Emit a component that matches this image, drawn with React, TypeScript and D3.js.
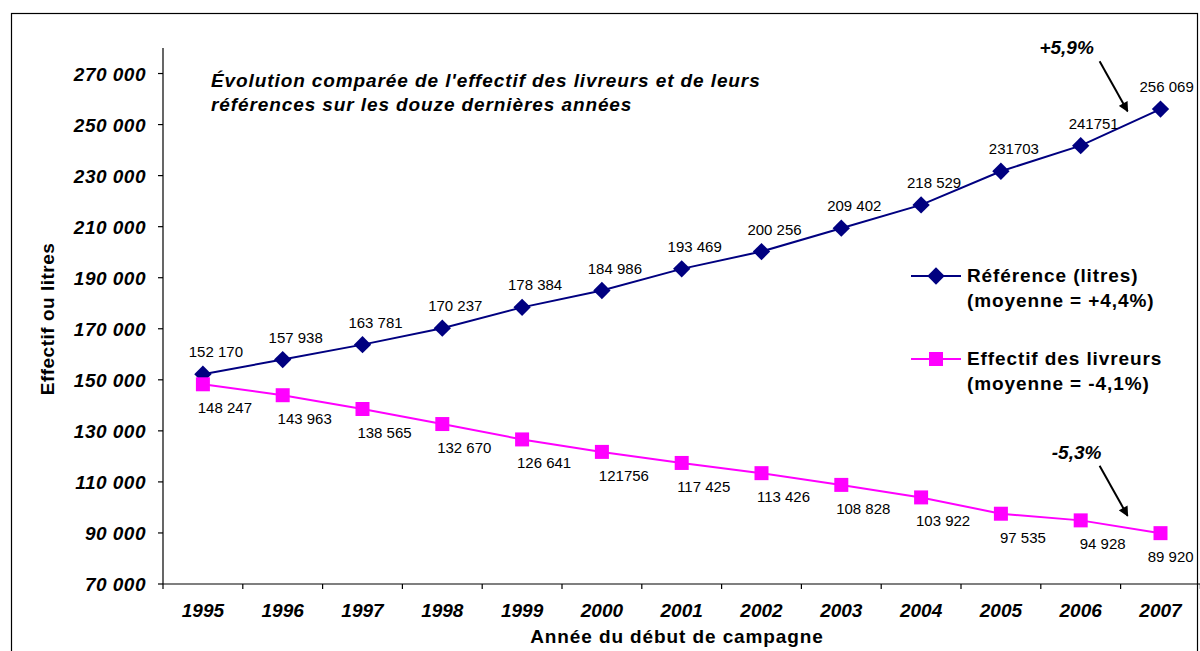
import React from "react";
import * as d3 from "d3";

const years = ["1995","1996","1997","1998","1999","2000","2001","2002","2003","2004","2005","2006","2007"];
const reference = [152170,157938,163781,170237,178384,184986,193469,200256,209402,218529,231703,241751,256069];
const referenceLabels = ["152 170","157 938","163 781","170 237","178 384","184 986","193 469","200 256","209 402","218 529","231703","241751","256 069"];
const effectif = [148247,143963,138565,132670,126641,121756,117425,113426,108828,103922,97535,94928,89920];
const effectifLabels = ["148 247","143 963","138 565","132 670","126 641","121756","117 425","113 426","108 828","103 922","97 535","94 928","89 920"];
const yTicks = [70000,90000,110000,130000,150000,170000,190000,210000,230000,250000,270000];
const titleLines = ["Évolution comparée de l'effectif des livreurs et de leurs","références sur les douze dernières années"];
const legendRef = ["Référence (litres)","(moyenne = +4,4%)"];
const legendEff = ["Effectif des livreurs","(moyenne = -4,1%)"];

const W = 1200, H = 651;
const left = 163, bottom = 584, top = 48;
const step = 79.8;
const NAVY = "#000080", MAG = "#FF00FF";
const FONT = "'Liberation Sans', Arial, sans-serif";
const LABEL_SIZE = 15;

export default function App() {
  const x = d3.scaleBand<string>().domain(years).range([left, left + step * years.length]).padding(0);
  const y = d3.scaleLinear().domain([70000, 280000]).range([bottom, top]);
  const cx = (i: number) => (x(years[i]) as number) + x.bandwidth() / 2;
  const line = d3.line<number>().x((_, i) => cx(i)).y(d => y(d));
  const fmt = (v: number) => d3.format(",")(v).replace(/,/g, " ");
  const diamond = d3.symbol(d3.symbolSquare, 150)();
  const square = d3.symbol(d3.symbolSquare, 196)();
  const n = years.length;
  const labelX = (i: number, dx: number, s: string) => {
    const half = (s.length * LABEL_SIZE * 0.54) / 2;
    return Math.min(cx(i) + dx, 1195 - half);
  };

  const pct = (arr: number[]) => {
    const p = (arr[n - 1] / arr[n - 2] - 1) * 100;
    return (p >= 0 ? "+" : "-") + Math.abs(p).toFixed(1).replace(".", ",") + "%";
  };
  const annots = [
    { arr: reference, text: pct(reference), dy: -16, lx: -33 },
    { arr: effectif, text: pct(effectif), dy: -11, lx: -23 },
  ];

  return (
    <svg width={W} height={H} style={{ position: "absolute", left: 0, top: 0, fontFamily: FONT }}>
      <defs>
        <marker id="ah" viewBox="0 0 10 10" refX="9" refY="5" markerWidth="5.5" markerHeight="5" orient="auto">
          <path d="M0,0 L10,5 L0,10 z" fill="#000" />
        </marker>
      </defs>
      <rect x={0} y={0} width={W} height={H} fill="#fff" />
      <rect x={11.5} y={13.5} width={1186} height={700} fill="none" stroke="#000" strokeWidth={1.2} />

      {/* title */}
      {titleLines.map((t, i) => (
        <text key={i} x={211} y={87 + i * 24} fontSize={19} fontWeight="bold" fontStyle="italic" letterSpacing={0.9}>{t}</text>
      ))}

      {/* y axis */}
      <line x1={left} x2={left} y1={top} y2={bottom} stroke="#000" strokeWidth={1.2} />
      {yTicks.map(t => (
        <g key={t}>
          <line x1={left - 5} x2={left} y1={y(t)} y2={y(t)} stroke="#000" strokeWidth={1.2} />
          <text x={146} y={y(t) + 7} textAnchor="end" fontSize={19} fontWeight="bold" fontStyle="italic" letterSpacing={0.5}>{fmt(t)}</text>
        </g>
      ))}
      <text transform={`translate(54,${(top + bottom) / 2 + 3}) rotate(-90)`} textAnchor="middle" fontSize={19} fontWeight="bold" letterSpacing={0.5}>Effectif ou litres</text>

      {/* x axis */}
      <line x1={left} x2={W} y1={bottom} y2={bottom} stroke="#000" strokeWidth={1.2} />
      {d3.range(n + 1).map(i => (
        <line key={i} x1={left + i * x.step()} x2={left + i * x.step()} y1={bottom} y2={bottom + 5} stroke="#000" strokeWidth={1.2} />
      ))}
      {years.map((yr, i) => (
        <text key={yr} x={cx(i)} y={617} textAnchor="middle" fontSize={19} fontWeight="bold" fontStyle="italic">{yr}</text>
      ))}
      <text x={677} y={643} textAnchor="middle" fontSize={19} fontWeight="bold" letterSpacing={0.9}>Année du début de campagne</text>

      {/* series */}
      <path d={line(reference) || ""} fill="none" stroke={NAVY} strokeWidth={2} />
      <path d={line(effectif) || ""} fill="none" stroke={MAG} strokeWidth={2} />
      {reference.map((v, i) => (
        <path key={"r" + i} d={diamond || ""} transform={`translate(${cx(i)},${y(v)}) rotate(45)`} fill={NAVY} />
      ))}
      {effectif.map((v, i) => (
        <path key={"e" + i} d={square || ""} transform={`translate(${cx(i)},${y(v)})`} fill={MAG} />
      ))}
      {reference.map((v, i) => (
        <text key={"rl" + i} x={labelX(i, 13, referenceLabels[i])} y={y(v) - 17} textAnchor="middle" fontSize={LABEL_SIZE}>{referenceLabels[i]}</text>
      ))}
      {effectif.map((v, i) => (
        <text key={"el" + i} x={labelX(i, 22, effectifLabels[i])} y={y(v) + 29} textAnchor="middle" fontSize={LABEL_SIZE}>{effectifLabels[i]}</text>
      ))}

      {/* annotations */}
      {annots.map((a, k) => {
        const mx = (cx(n - 2) + cx(n - 1)) / 2 + 7;
        const my = (y(a.arr[n - 2]) + y(a.arr[n - 1])) / 2 + a.dy;
        return (
          <g key={k}>
            <line x1={mx - 28} y1={my - 50} x2={mx} y2={my} stroke="#000" strokeWidth={2} markerEnd="url(#ah)" />
            <text x={mx - 28 + a.lx} y={my - 57} textAnchor="middle" fontSize={19} fontWeight="bold" fontStyle="italic">{a.text}</text>
          </g>
        );
      })}

      {/* legend */}
      <g>
        <line x1={911} x2={961} y1={276} y2={276} stroke={NAVY} strokeWidth={2} />
        <path d={diamond || ""} transform="translate(936,276) rotate(45)" fill={NAVY} />
        {legendRef.map((t, i) => (
          <text key={i} x={967} y={282 + i * 25} fontSize={19} fontWeight="bold" letterSpacing={0.9}>{t}</text>
        ))}
        <line x1={911} x2={961} y1={359} y2={359} stroke={MAG} strokeWidth={2} />
        <path d={square || ""} transform="translate(936,359)" fill={MAG} />
        {legendEff.map((t, i) => (
          <text key={i} x={967} y={365 + i * 25} fontSize={19} fontWeight="bold" letterSpacing={0.9}>{t}</text>
        ))}
      </g>
    </svg>
  );
}
